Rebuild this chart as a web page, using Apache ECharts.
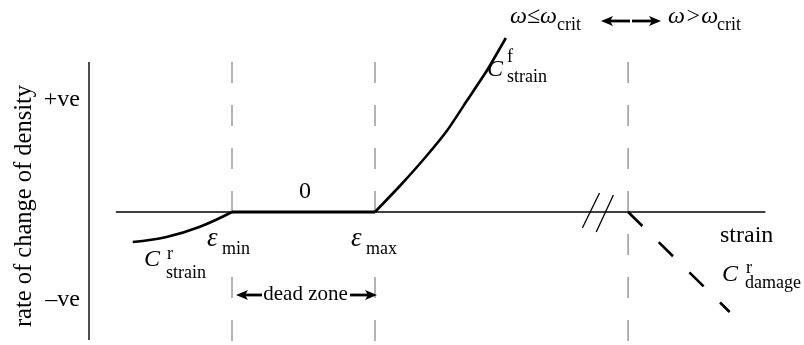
<!DOCTYPE html>
<html>
<head>
<meta charset="utf-8">
<script src="https://cdn.jsdelivr.net/npm/echarts@6/dist/echarts.min.js"></script>
<style>
html,body{margin:0;padding:0;background:#fff;}
#c{width:804px;height:345px;}
</style>
</head>
<body>
<div id="c"></div>
<script>
// ---- data (schematic units: x in strain units with eps_min = 1, eps_max = 2; y in rate units) ----
const strainRecX = [0.306, 0.542, 0.771, 1.0];
const strainRecY = [-0.30, -0.25, -0.15, 0.0];
const deadZoneX = [1.0, 2.0];
const deadZoneY = [0.0, 0.0];
const strainFormX = [2.0, 2.18, 2.354, 2.507, 2.646, 2.785, 2.915];
const strainFormY = [0.0, 0.27, 0.55, 0.82, 1.12, 1.42, 1.74];
const damageX = [3.77, 4.48];
const damageY = [0.0, -1.0];
const markerX = [1.0, 2.0, 3.77];       // eps_min, eps_max, omega_crit
const markerYRange = [1.5, -1.29];
const yAxisRange = [-1.28, 1.5];
const xAxisRange = [0.1875, 4.73];
const breakA = [[3.45, -0.16], [3.57, 0.19]];
const breakB = [[3.547, -0.20], [3.667, 0.17]];
const tickLabels = ['+ve', '–ve'];

const chart = echarts.init(document.getElementById('c'), null, {renderer: 'canvas'});
const SERIF = '"Liberation Serif","Times New Roman",serif';

function zip(xs, ys) { return xs.map((x, i) => [x, ys[i]]); }
function lineSeries(data, style, extra) {
  return Object.assign({
    type: 'line', data: data, symbol: 'none', silent: true, animation: false,
    lineStyle: style, z: 3
  }, extra || {});
}

const series = [];
// dashed vertical markers
markerX.forEach(x => {
  series.push(lineSeries([[x, markerYRange[0]], [x, markerYRange[1]]],
    {color: '#9a9a9a', width: 1.5, type: [21, 22]}, {z: 1}));
});
// axes
series.push(lineSeries([[0, yAxisRange[0]], [0, yAxisRange[1]]], {color: '#000', width: 1.4}, {z: 2}));
series.push(lineSeries([[xAxisRange[0], 0], [xAxisRange[1], 0]], {color: '#000', width: 1.3}, {z: 2}));
series.push(lineSeries(breakA, {color: '#000', width: 1.3}));
series.push(lineSeries(breakB, {color: '#000', width: 1.3}));
// curves
series.push(lineSeries(zip(strainRecX, strainRecY), {color: '#000', width: 2.6}, {smooth: 0.4}));
series.push(lineSeries(zip(deadZoneX, deadZoneY), {color: '#000', width: 2.8}));
series.push(lineSeries(zip(strainFormX, strainFormY), {color: '#000', width: 2.6}, {smooth: 0.15}));
series.push(lineSeries(zip(damageX, damageY), {color: '#000', width: 2.6, type: [20, 23]}));

// ---- annotations ----
const FS = 24, SFS = 18;
function txt(text, x, baseline, size, opts) {
  opts = opts || {};
  return {
    type: 'text', x: x, y: baseline - 0.34 * size, z: 10, silent: true,
    style: {
      text: text, fill: '#000',
      font: (opts.italic ? 'italic ' : '') + size + 'px ' + SERIF,
      align: opts.align || 'left', verticalAlign: 'middle'
    }
  };
}
function arrow(x1, y, x2) {
  const dir = x2 > x1 ? 1 : -1;
  const head = 12, hw = 5;
  return [
    {type: 'line', silent: true, z: 10, shape: {x1: x1, y1: y, x2: x2 - dir * head * 0.7, y2: y},
      style: {stroke: '#000', lineWidth: 2.8}},
    {type: 'polygon', silent: true, z: 10,
      shape: {points: [[x2, y], [x2 - dir * head, y - hw], [x2 - dir * head * 0.75, y], [x2 - dir * head, y + hw]]},
      style: {fill: '#000'}}
  ];
}

const graphics = [
  {type: 'text', x: 25, y: 206, rotation: Math.PI / 2, silent: true, z: 10,
    style: {text: 'rate of change of density', fill: '#000', font: '24.5px ' + SERIF,
      align: 'center', verticalAlign: 'middle'}},
  txt(tickLabels[0], 80, 108, FS, {align: 'right'}),
  txt(tickLabels[1], 80, 308, FS, {align: 'right'}),
  txt('0', 305, 200, FS, {align: 'center'}),
  // eps_min
  {type: 'rect', shape: {x: 206, y: 230, width: 44, height: 28}, style: {fill: '#fff'}, z: 5, silent: true},
  txt('ε', 207, 248, 27, {italic: true}),
  txt('min', 222, 255, SFS),
  // eps_max
  {type: 'rect', shape: {x: 350, y: 230, width: 50, height: 28}, style: {fill: '#fff'}, z: 5, silent: true},
  txt('ε', 351, 248, 27, {italic: true}),
  txt('max', 366, 255, SFS),
  // C^r_strain
  txt('C', 144, 268, FS, {italic: true}),
  txt('r', 167, 260, SFS),
  txt('strain', 166, 279, SFS),
  // C^f_strain
  txt('C', 487, 78, FS, {italic: true}),
  txt('f', 507, 63, SFS),
  txt('strain', 507, 83, SFS),
  // strain axis label
  txt('strain', 720, 244, FS),
  // C^r_damage
  txt('C', 722, 283, FS, {italic: true}),
  txt('r', 746, 274, SFS),
  txt('damage', 745, 289, SFS),
  // dead zone
  txt('dead zone', 305.5, 302, 21, {align: 'center'}),
  // omega labels
  txt('ω≤ω', 510, 25, FS, {italic: true}),
  txt('crit', 557, 31, SFS),
  txt('ω>ω', 668, 25, FS, {italic: true}),
  txt('crit', 717, 31, SFS)
].concat(arrow(262, 295, 236), arrow(350, 295, 377), arrow(630, 21, 601), arrow(632, 21, 661));

chart.setOption({
  animation: false,
  backgroundColor: '#fff',
  grid: {left: 89, top: 0, width: 720, height: 345, containLabel: false},
  xAxis: {type: 'value', min: 0, max: 5, show: false},
  yAxis: {type: 'value', min: -1.33, max: 2.12, show: false},
  series: series,
  graphic: graphics
});
</script>
</body>
</html>
